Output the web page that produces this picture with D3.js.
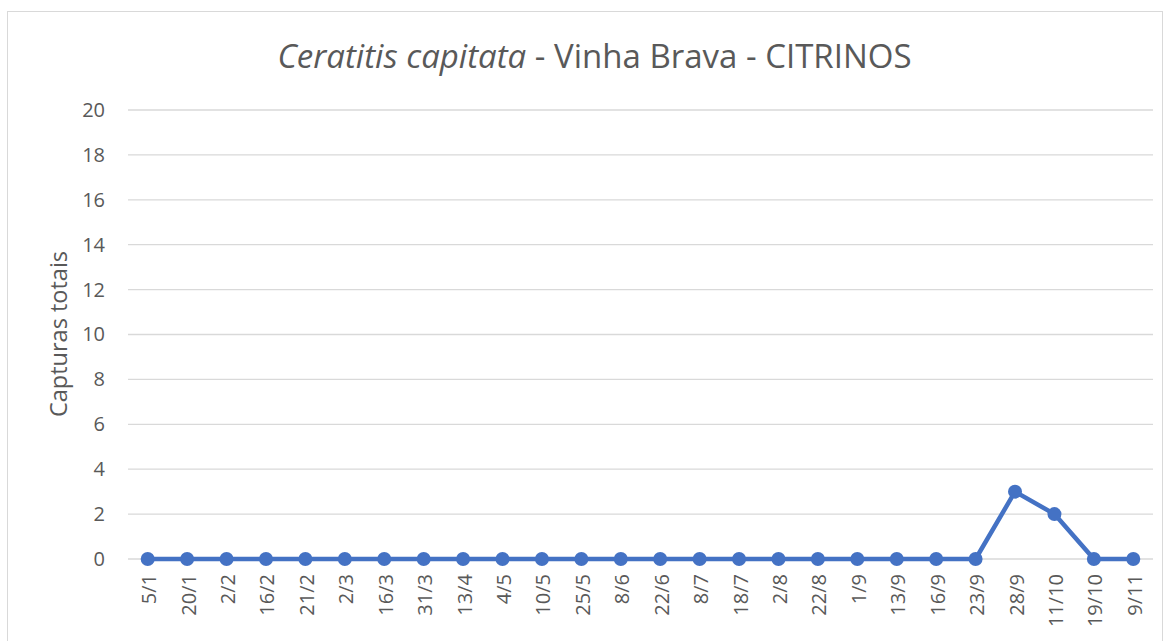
<!DOCTYPE html>
<html><head><meta charset="utf-8">
<script src="https://cdn.jsdelivr.net/npm/d3@7"></script>
<style>body{margin:0;background:#fff;} svg{display:block;}</style>
</head><body>
<svg id="c" width="1168" height="641"></svg>
<script>
const categories = ["5/1","20/1","2/2","16/2","21/2","2/3","16/3","31/3","13/4","4/5","10/5","25/5","8/6","22/6","8/7","18/7","2/8","22/8","1/9","13/9","16/9","23/9","28/9","11/10","19/10","9/11"];
const values = [0,0,0,0,0,0,0,0,0,0,0,0,0,0,0,0,0,0,0,0,0,0,3,2,0,0];
const yTicks = [0,2,4,6,8,10,12,14,16,18,20];

(function(){
const svg = d3.select("#c");
const font = "'Open Sans', sans-serif";
const textColor = "#595959";
svg.append("rect").attr("x",7.5).attr("y",11.5).attr("width",1155).attr("height",640).attr("fill","#fff").attr("stroke","#d9d9d9");

const pLeft = 128, pRight = 1153, pTop = 110, pBottom = 559;
const x = d3.scalePoint().domain(categories).range([pLeft, pRight]).padding(0.5);
const y = d3.scaleLinear().domain([0,20]).range([pBottom, pTop]);

svg.append("g").selectAll("line").data(yTicks).join("line")
  .attr("x1",pLeft).attr("x2",pRight).attr("y1",d=>y(d)).attr("y2",d=>y(d))
  .attr("stroke","#d9d9d9").attr("stroke-width",1.3);

const ya = svg.append("g").attr("transform",`translate(${pLeft},0)`)
  .call(d3.axisLeft(y).tickValues(yTicks).tickSize(0).tickPadding(23));
ya.select(".domain").remove();
ya.selectAll("text").attr("font-family",font).attr("font-size",20).attr("fill",textColor);

const xa = svg.append("g").attr("transform",`translate(0,${pBottom})`)
  .call(d3.axisBottom(x).tickSize(0));
xa.select(".domain").remove();
xa.selectAll("text").attr("font-family",font).attr("font-size",20).attr("fill",textColor)
  .attr("transform","rotate(-90)").attr("text-anchor","end").attr("dx","-15").attr("dy","0.4em").attr("y",0).attr("x",0);

svg.append("path").datum(values)
  .attr("d", d3.line().x((d,i)=>x(categories[i])).y(d=>y(d)))
  .attr("fill","none").attr("stroke","#4472C4").attr("stroke-width",4.5).attr("stroke-linejoin","round");
svg.append("g").selectAll("circle").data(values).join("circle")
  .attr("cx",(d,i)=>x(categories[i])).attr("cy",d=>y(d)).attr("r",7).attr("fill","#4472C4");

const t = svg.append("text").attr("x",594.5).attr("y",68).attr("text-anchor","middle")
  .attr("font-family",font).attr("font-size",33).attr("fill",textColor);
t.append("tspan").attr("font-style","italic").text("Ceratitis capitata");
t.append("tspan").text(" - Vinha Brava - CITRINOS");

svg.append("text").attr("transform","translate(67,334) rotate(-90)").attr("text-anchor","middle")
  .attr("font-family",font).attr("font-size",23.5).attr("fill",textColor).text("Capturas totais");
})();
</script>
</body></html>
